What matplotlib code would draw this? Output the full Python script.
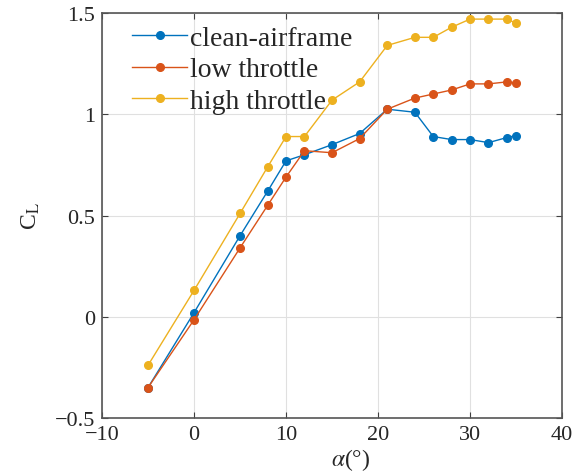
import matplotlib
matplotlib.use('Agg')
import matplotlib.pyplot as plt

# angle of attack (deg)
alpha_clean = [-5, 0, 5, 8, 10, 12, 15, 18, 21, 24, 26, 28, 30, 32, 34, 35]
cl_clean = [-0.35, 0.02, 0.40, 0.62, 0.77, 0.80, 0.85, 0.905, 1.025, 1.01, 0.89, 0.875, 0.875, 0.86, 0.885, 0.895]

alpha_low = [-5, 0, 5, 8, 10, 12, 15, 18, 21, 24, 26, 28, 30, 32, 34, 35]
cl_low = [-0.35, -0.015, 0.34, 0.55, 0.69, 0.82, 0.81, 0.88, 1.025, 1.08, 1.10, 1.12, 1.15, 1.15, 1.16, 1.155]

alpha_high = [-5, 0, 5, 8, 10, 12, 15, 18, 21, 24, 26, 28, 30, 32, 34, 35]
cl_high = [-0.24, 0.13, 0.51, 0.74, 0.89, 0.89, 1.07, 1.16, 1.34, 1.38, 1.38, 1.43, 1.47, 1.47, 1.47, 1.45]

labels = ['clean-airframe', 'low throttle', 'high throttle']
colors = ['#0072BD', '#D95319', '#EDB120']

plt.rcParams['font.family'] = ['Liberation Serif', 'DejaVu Serif']
plt.rcParams['mathtext.fontset'] = 'stix'

fig = plt.figure(figsize=(5.73, 4.77), dpi=100)
ax = fig.add_axes([0.178, 0.1216, 0.803, 0.849])

series = [(alpha_clean, cl_clean), (alpha_low, cl_low), (alpha_high, cl_high)]
for (x, y), lab, c in zip(series, labels, colors):
    ax.plot(x, y, '-o', color=c, lw=1.0, ms=5.5, label=lab)

ax.set_xlim(-10, 40)
ax.set_ylim(-0.5, 1.5)
ax.set_xticks([-10, 0, 10, 20, 30, 40])
ax.set_yticks([-0.5, 0, 0.5, 1, 1.5])
ax.set_yticklabels(['\u22120.5', '0', '0.5', '1', '1.5'])
ax.set_xticklabels(['\u221210', '0', '10', '20', '30', '40'])
ax.grid(True, color='#e0e0e0', lw=0.8)
ax.set_axisbelow(True)
ax.tick_params(direction='in', top=True, right=True, labelsize=16, colors='#404040',
               length=4, pad=5)
ax.tick_params(labelcolor='#262626')
for s in ax.spines.values():
    s.set_color('#555555')
    s.set_linewidth(1.2)

ax.set_xlabel(r'$\alpha$(°)', fontsize=17, color='#262626')
ax.xaxis.set_label_coords(0.54, -0.07)
ax.set_ylabel(r'C$_\mathrm{L}$', fontsize=17, labelpad=9, color='#262626')

leg = ax.legend(loc='upper left', bbox_to_anchor=(0.056, 0.98), fontsize=20,
                frameon=False, handlelength=2.0, handletextpad=0.1,
                labelspacing=0.22, borderpad=0.15, borderaxespad=0.0)
for t in leg.get_texts():
    t.set_color('#262626')

fig.savefig('out.png', dpi=100)
